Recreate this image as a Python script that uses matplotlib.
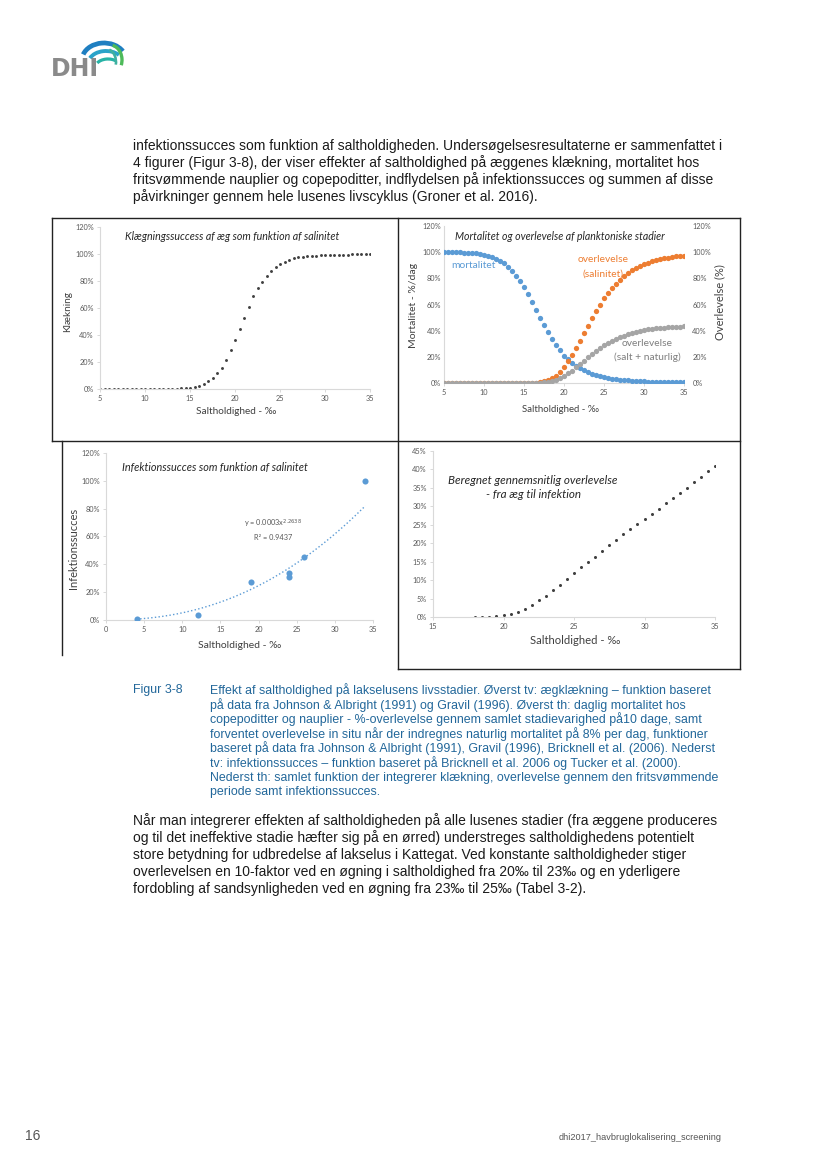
import numpy as np
import matplotlib
matplotlib.use('Agg')
import matplotlib.pyplot as plt
from matplotlib.patches import Arc

W, H = 827, 1169

# ---- data ----
sal_grid = np.arange(5, 35.5, 0.5)

klaekning = [0, 0, 0, 0, 0, 0, 0, 0, 0, 0, 0, 0, 0, 0, 0, 0,
             0.3, 0.3, 0.4, 0.5, 0.8, 1.2, 2.2, 3.4, 5.9, 8.4,
             11.8, 15.7, 21.4, 28.7, 36.4, 44.7, 52.8, 60.7, 68.6, 74.7,
             79.6, 84.0, 87.7, 90.7, 92.6, 94.3, 95.8, 96.8, 97.5, 98.0,
             98.3, 98.5, 98.8, 99.0, 99.1, 99.2, 99.3, 99.4, 99.5, 99.6,
             99.7, 99.8, 99.8, 99.9, 100]

mortalitet = [100, 100, 100, 99.9, 99.8, 99.7, 99.5, 99.3, 99.0, 98.6,
              98.1, 97.4, 96.4, 95.1, 93.5, 91.6, 89.0, 85.7, 82.0, 77.7,
              73.0, 68.0, 61.6, 56.0, 50.0, 44.0, 38.6, 34.0, 28.9, 25.0,
              21.0, 18.0, 15.6, 13.2, 11.2, 9.6, 8.2, 7.0, 6.0, 5.2,
              4.5, 3.9, 3.4, 3.0, 2.6, 2.3, 2.0, 1.8, 1.6, 1.4,
              1.2, 1.1, 1.0, 0.9, 0.8, 0.7, 0.6, 0.55, 0.5, 0.45, 0.4]

overlev_salinitet = [0] * 23 + [
    0.3, 0.6, 1.2, 2.2, 3.5, 5.5, 8.4,
    12.3, 16.5, 21.3, 26.6, 32.2, 38.1, 43.9, 49.5, 54.8, 60.0,
    64.7, 68.5, 72.4, 75.7, 78.8, 81.6, 84.0, 86.0, 88.0, 89.5,
    90.8, 92.0, 93.0, 93.8, 94.5, 95.2, 95.8, 96.3, 96.7, 97.0,
    97.3]

overlev_naturlig = [0] * 24 + [
    0.3, 0.5, 1.0, 1.6, 2.5, 3.8,
    5.5, 7.4, 9.5, 11.9, 14.3, 17.0, 19.6, 22.0, 24.5, 26.7,
    28.8, 30.5, 32.2, 33.7, 35.0, 36.3, 37.4, 38.3, 39.2, 39.8,
    40.4, 41.0, 41.4, 41.8, 42.1, 42.4, 42.6, 42.8, 43.0, 43.1,
    43.3]

infek_sal = [4, 12, 19, 24, 24, 26, 34]
infek_val = [1.0, 3.5, 27.5, 34, 31, 45, 100]
trend_a, trend_b = 0.00028, 2.2638   # Excel power trendline

samlet_sal = np.arange(18, 35.5, 0.5)
samlet_val = [0.05, 0.05, 0.1, 0.25, 0.45, 0.9, 1.4, 2.2, 3.3, 4.5,
              5.7, 7.2, 8.8, 10.4, 12.0, 13.5, 14.9, 16.4, 17.9, 19.5,
              20.9, 22.4, 23.8, 25.1, 26.7, 28.0, 29.4, 30.8, 32.3, 33.7,
              35.0, 36.6, 37.9, 39.5, 40.8]

# ---- styling ----
BLUE = '#5B9BD5'
ORANGE = '#ED7D31'
GREY = '#A5A5A5'
DOT = '#404040'
AXC = '#D9D9D9'
TICKC = '#595959'
CHART_FONT = ['Lato', 'DejaVu Sans']
BODY_FONT = ['Liberation Sans', 'DejaVu Sans']
CAP_BLUE = '#22679A'

fig = plt.figure(figsize=(W / 100, H / 100), dpi=100)


def add_ax(x0, x1, y_top, y_bot):
    """Axes placed by page pixel coordinates."""
    return fig.add_axes([x0 / W, 1 - y_bot / H, (x1 - x0) / W, (y_bot - y_top) / H])


def style_ax(ax):
    for s in ['top', 'right']:
        ax.spines[s].set_visible(False)
    for s in ['left', 'bottom']:
        ax.spines[s].set_color(AXC)
        ax.spines[s].set_linewidth(0.8)
    ax.tick_params(colors=AXC, labelcolor=TICKC, labelsize=5.3, length=2.5, width=0.7, pad=2)
    for lab in ax.get_xticklabels() + ax.get_yticklabels():
        lab.set_family(CHART_FONT)
    ax.patch.set_alpha(0)


def pct_labels(vals):
    return ['%d%%' % v for v in vals]


# page overlay in pixel coordinates
page = fig.add_axes([0, 0, 1, 1])
page.set_xlim(0, W)
page.set_ylim(H, 0)
page.axis('off')

# --- panel 1: klækning ---
ax1 = add_ax(100, 370, 227, 389)
ax1.plot(sal_grid, klaekning, 'o', color=DOT, ms=2.1, mew=0)
ax1.set_xlim(5, 35)
ax1.set_ylim(0, 120)
ax1.set_xticks([5, 10, 15, 20, 25, 30, 35])
ax1.set_yticks(range(0, 121, 20))
ax1.set_yticklabels(pct_labels(range(0, 121, 20)))
style_ax(ax1)

# --- panel 2: mortalitet / overlevelse ---
ax2 = add_ax(444, 684, 226, 383)
ax2.plot(sal_grid, mortalitet, 'o', color=BLUE, ms=3.8, mew=0, zorder=3)
ax2.plot(sal_grid, overlev_salinitet, 'o', color=ORANGE, ms=3.8, mew=0, zorder=4)
ax2.plot(sal_grid, overlev_naturlig, 'o', color=GREY, ms=3.8, mew=0, zorder=5)
ax2.set_xlim(5, 35)
ax2.set_ylim(0, 120)
ax2.set_xticks([5, 10, 15, 20, 25, 30, 35])
ax2.set_yticks(range(0, 121, 20))
ax2.set_yticklabels(pct_labels(range(0, 121, 20)))
style_ax(ax2)
ax2.tick_params(axis='y', length=0)
ax2r = ax2.twinx()
ax2r.set_ylim(0, 120)
ax2r.set_yticks(range(0, 121, 20))
ax2r.set_yticklabels(pct_labels(range(0, 121, 20)))
for s in ['top', 'left', 'bottom', 'right']:
    ax2r.spines[s].set_visible(False)
ax2r.tick_params(colors=AXC, labelcolor=TICKC, labelsize=5.3, length=0, pad=6)
for lab in ax2r.get_yticklabels():
    lab.set_family(CHART_FONT)

# --- panel 3: infektionssucces ---
ax3 = add_ax(106, 373, 453, 620)
xs = np.linspace(infek_sal[0], infek_sal[-1], 200)
ax3.plot(xs, trend_a * xs ** trend_b * 100, ':', color=BLUE, lw=1.0)
ax3.plot(infek_sal, infek_val, 'o', color=BLUE, ms=4.4, mew=0, zorder=4)
ax3.set_xlim(0, 35)
ax3.set_ylim(0, 120)
ax3.set_xticks(range(0, 36, 5))
ax3.set_yticks(range(0, 121, 20))
ax3.set_yticklabels(pct_labels(range(0, 121, 20)))
style_ax(ax3)

# --- panel 4: samlet overlevelse ---
ax4 = add_ax(433, 715, 451, 617)
ax4.plot(samlet_sal, samlet_val, 'o', color=DOT, ms=2.2, mew=0)
ax4.set_xlim(15, 35)
ax4.set_ylim(0, 45)
ax4.set_xticks([15, 20, 25, 30, 35])
ax4.set_yticks(range(0, 46, 5))
ax4.set_yticklabels(pct_labels(range(0, 46, 5)))
style_ax(ax4)

# chart texts
lab_kw = dict(family=CHART_FONT, color='#404040', ha='center', va='center')
tit_kw = dict(family=CHART_FONT, color='#262626', style='italic', ha='center', va='center')
page.text(232, 236, 'Klægningssuccess af æg som funktion af salinitet', fontsize=7.7, **tit_kw)
page.text(560, 237, 'Mortalitet og overlevelse af planktoniske stadier', fontsize=7.6, **tit_kw)
page.text(215, 468, 'Infektionssucces som funktion af salinitet', fontsize=7.8, **tit_kw)
page.text(533, 481, 'Beregnet gennemsnitlig overlevelse', fontsize=8.4, **tit_kw)
page.text(533, 495, '- fra æg til infektion', fontsize=8.4, **tit_kw)

page.text(236, 411, 'Saltholdighed - ‰', fontsize=7.2, **lab_kw)
page.text(560, 409, 'Saltholdighed - ‰', fontsize=6.9, **lab_kw)
page.text(240, 645, 'Saltholdighed - ‰', fontsize=7.5, **lab_kw)
page.text(575, 641, 'Saltholdighed - ‰', fontsize=8.1, **lab_kw)
page.text(68, 312, 'Klækning', rotation=90, fontsize=7.2, **lab_kw)
page.text(413, 305, 'Mortalitet - %/dag', rotation=90, fontsize=7.5, **lab_kw)
page.text(720, 302, 'Overlevelse (%)', rotation=90, fontsize=8.0, **lab_kw)
page.text(73, 548, 'Infektionssucces', rotation=90, fontsize=8.0, **lab_kw)

ser_kw = dict(fontsize=7.4, family=CHART_FONT, ha='center', va='center')
page.text(473, 266, 'mortalitet', color=BLUE, **ser_kw)
page.text(603, 260, 'overlevelse', color=ORANGE, **ser_kw)
page.text(603, 274, '(salinitet)', color=ORANGE, **ser_kw)
page.text(647, 344, 'overlevelse', color='#7F7F7F', **ser_kw)
page.text(647, 357, '(salt + naturlig)', color='#7F7F7F', **ser_kw)

page.text(273, 524, 'y = 0.0003x$^{2.2638}$', color='#595959', fontsize=5.3, family=CHART_FONT, ha='center', va='center')
page.text(273, 537, 'R² = 0.9437', color='#595959', fontsize=5.3, family=CHART_FONT, ha='center', va='center')

# frame round the figure panels
fk = dict(color='#222222', lw=1.0)
page.plot([52, 740], [218, 218], **fk)
page.plot([52, 52], [218, 441], **fk)
page.plot([52, 740], [441, 441], **fk)
page.plot([398, 398], [218, 669], **fk)
page.plot([740, 740], [218, 669], **fk)
page.plot([398, 740], [669, 669], **fk)
page.plot([62, 62], [441, 655], **fk)

# --- DHI logo ---
page.text(51, 76, 'DHI', fontsize=17, fontweight='bold', color='#8A8A8A',
          family=['DejaVu Sans'], ha='left', va='baseline')
page.add_patch(Arc((104, 60), 44, 34, theta1=195, theta2=335, color='#1F7FC1', lw=3.4))
page.add_patch(Arc((106, 64), 36, 26, theta1=200, theta2=325, color='#2AA3C9', lw=2.8))
page.add_patch(Arc((108, 68), 26, 18, theta1=205, theta2=320, color='#27B3A6', lw=2.3))
page.add_patch(Arc((110, 60), 24, 30, theta1=-80, theta2=25, color='#4DBA5A', lw=2.4))
page.add_patch(Arc((106, 62), 20, 26, theta1=-75, theta2=15, color='#3FB0A0', lw=1.9))

# --- body text ---
body = dict(family=BODY_FONT, fontsize=10.0, color='#1a1a1a', ha='left', va='center')
para1 = [
    'infektionssucces som funktion af saltholdigheden. Undersøgelsesresultaterne er sammenfattet i',
    '4 figurer (Figur 3-8), der viser effekter af saltholdighed på æggenes klækning, mortalitet hos',
    'fritsvømmende nauplier og copepoditter, indflydelsen på infektionssucces og summen af disse',
    'påvirkninger gennem hele lusenes livscyklus (Groner et al. 2016).',
]
for i, line in enumerate(para1):
    page.text(133, 146 + 17 * i, line, **body)

caption = [
    'Effekt af saltholdighed på lakselusens livsstadier. Øverst tv: ægklækning – funktion baseret',
    'på data fra Johnson & Albright (1991) og Gravil (1996). Øverst th: daglig mortalitet hos',
    'copepoditter og nauplier - %-overlevelse gennem samlet stadievarighed på10 dage, samt',
    'forventet overlevelse in situ når der indregnes naturlig mortalitet på 8% per dag, funktioner',
    'baseret på data fra Johnson & Albright (1991), Gravil (1996), Bricknell et al. (2006). Nederst',
    'tv: infektionssucces – funktion baseret på Bricknell et al. 2006 og Tucker et al. (2000).',
    'Nederst th: samlet funktion der integrerer klækning, overlevelse gennem den fritsvømmende',
    'periode samt infektionssucces.',
]
cap = dict(family=BODY_FONT, fontsize=8.9, color=CAP_BLUE, ha='left', va='center')
page.text(133, 690, 'Figur 3-8', **cap)
for i, line in enumerate(caption):
    page.text(210, 690 + 14.6 * i, line, **cap)

para3 = [
    'Når man integrerer effekten af saltholdigheden på alle lusenes stadier (fra æggene produceres',
    'og til det ineffektive stadie hæfter sig på en ørred) understreges saltholdighedens potentielt',
    'store betydning for udbredelse af lakselus i Kattegat. Ved konstante saltholdigheder stiger',
    'overlevelsen en 10-faktor ved en øgning i saltholdighed fra 20‰ til 23‰ og en yderligere',
    'fordobling af sandsynligheden ved en øgning fra 23‰ til 25‰ (Tabel 3-2).',
]
for i, line in enumerate(para3):
    page.text(133, 821 + 17 * i, line, **body)

# footer
page.text(25, 1136, '16', family=BODY_FONT, fontsize=10, color='#555555', ha='left', va='center')
page.text(722, 1137, 'dhi2017_havbruglokalisering_screening', family=BODY_FONT, fontsize=6.6,
          color='#555555', ha='right', va='center')

fig.savefig('out.png', dpi=100)
